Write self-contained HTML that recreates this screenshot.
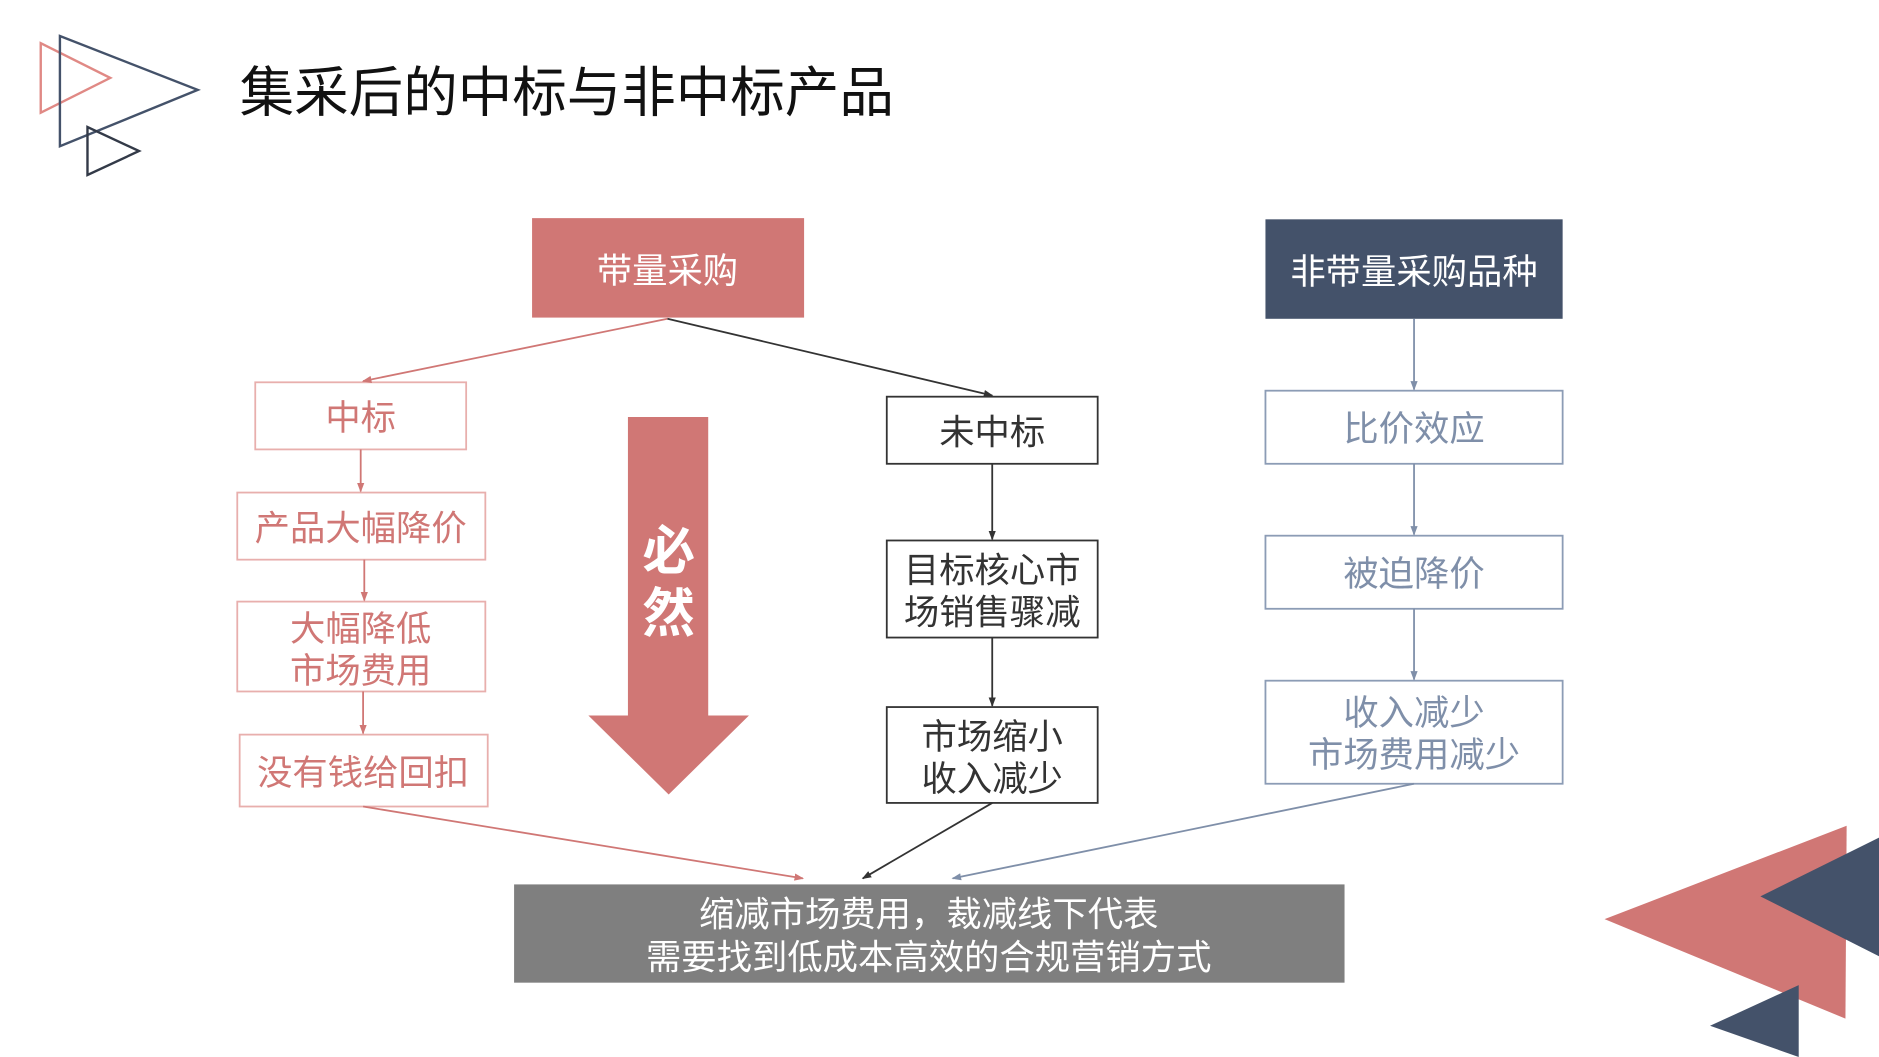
<!DOCTYPE html>
<html><head><meta charset="utf-8"><style>
html,body{margin:0;padding:0;background:#fff;}
svg{display:block;}
text{font-family:"Liberation Sans","Noto Sans CJK SC",sans-serif;}
</style></head><body>
<svg width="1879" height="1057" viewBox="0 0 1568 882" xmlns="http://www.w3.org/2000/svg">
<defs>
<marker id="ap" markerWidth="8" markerHeight="8" refX="7" refY="4" orient="auto" markerUnits="userSpaceOnUse"><path d="M0,1 L8,4 L0,7z" fill="#D07775"/></marker>
<marker id="ad" markerWidth="8" markerHeight="8" refX="7" refY="4" orient="auto" markerUnits="userSpaceOnUse"><path d="M0,1 L8,4 L0,7z" fill="#333"/></marker>
<marker id="ab" markerWidth="8" markerHeight="8" refX="7" refY="4" orient="auto" markerUnits="userSpaceOnUse"><path d="M0,1 L8,4 L0,7z" fill="#7F8FA9"/></marker>
</defs>
<polygon points="34,36 34,94 92,65" fill="none" stroke="#E08985" stroke-width="2"/>
<polygon points="50,30 50,122 165,75" fill="none" stroke="#44526A" stroke-width="2"/>
<polygon points="73,106 73,146 116,126" fill="none" stroke="#333A48" stroke-width="2"/>
<text x="200" y="93" font-size="45.5" fill="#111">集采后的中标与非中标产品</text>
<polygon points="1339,767 1541,689 1540,850" fill="#D07775"/>
<polygon points="1469,748 1568,699 1568,798" fill="#44526A"/>
<polygon points="1427,856 1501,822 1501,882" fill="#44526A"/>
<rect x="444" y="182" width="227" height="83" fill="#D07775"/>
<text x="557" y="236" font-size="29.5" fill="#fff" text-anchor="middle">带量采购</text>
<rect x="1056" y="183" width="248" height="83" fill="#44526A"/>
<text x="1180" y="237" font-size="29.5" fill="#fff" text-anchor="middle">非带量采购品种</text>
<g fill="#fff" stroke="#E8AFAD" stroke-width="1.5">
<rect x="213" y="319" width="176" height="56"/>
<rect x="198" y="411" width="207" height="56"/>
<rect x="198" y="502" width="207" height="75"/>
<rect x="200" y="613" width="207" height="60"/>
</g>
<g font-size="29.5" fill="#D07775" text-anchor="middle">
<text x="301" y="359">中标</text>
<text x="301" y="451">产品大幅降价</text>
<text x="301" y="535">大幅降低</text>
<text x="301" y="570">市场费用</text>
<text x="303" y="655">没有钱给回扣</text>
</g>
<g fill="#fff" stroke="#333" stroke-width="1.5">
<rect x="740" y="331" width="176" height="56"/>
<rect x="740" y="451" width="176" height="81"/>
<rect x="740" y="590" width="176" height="80"/>
</g>
<g font-size="29.5" fill="#333" text-anchor="middle">
<text x="828" y="371">未中标</text>
<text x="828" y="486">目标核心市</text>
<text x="828" y="521">场销售骤减</text>
<text x="828" y="625">市场缩小</text>
<text x="828" y="660">收入减少</text>
</g>
<g fill="#fff" stroke="#8C9CB5" stroke-width="1.5">
<rect x="1056" y="326" width="248" height="61"/>
<rect x="1056" y="447" width="248" height="61"/>
<rect x="1056" y="568" width="248" height="86"/>
</g>
<g font-size="29.5" fill="#7F8FA9" text-anchor="middle">
<text x="1180" y="368">比价效应</text>
<text x="1180" y="489">被迫降价</text>
<text x="1180" y="605">收入减少</text>
<text x="1180" y="640">市场费用减少</text>
</g>
<polygon points="524,348 591,348 591,597 625,597 558,663 491,597 524,597" fill="#D07775"/>
<text x="558" y="475" font-size="44" font-weight="bold" fill="#fff" text-anchor="middle">必</text>
<text x="558" y="527" font-size="44" font-weight="bold" fill="#fff" text-anchor="middle">然</text>
<rect x="429" y="738" width="693" height="82" fill="#7F7F7F"/>
<text x="775" y="773" font-size="29.5" fill="#fff" text-anchor="middle">缩减市场费用，裁减线下代表</text>
<text x="775" y="809" font-size="29.5" fill="#fff" text-anchor="middle">需要找到低成本高效的合规营销方式</text>
<g stroke="#D07775" stroke-width="1.5" fill="none" marker-end="url(#ap)">
<line x1="557" y1="266" x2="303" y2="318"/>
<line x1="301" y1="375" x2="301" y2="410"/>
<line x1="304" y1="467" x2="304" y2="501"/>
<line x1="303" y1="577" x2="303" y2="612"/>
<line x1="303" y1="673" x2="670" y2="733"/>
</g>
<g stroke="#333" stroke-width="1.5" fill="none" marker-end="url(#ad)">
<line x1="557" y1="266" x2="828" y2="330"/>
<line x1="828" y1="387" x2="828" y2="450"/>
<line x1="828" y1="532" x2="828" y2="589"/>
<line x1="828" y1="670" x2="720" y2="733"/>
</g>
<g stroke="#7F8FA9" stroke-width="1.5" fill="none" marker-end="url(#ab)">
<line x1="1180" y1="266" x2="1180" y2="325"/>
<line x1="1180" y1="387" x2="1180" y2="446"/>
<line x1="1180" y1="508" x2="1180" y2="567"/>
<line x1="1180" y1="654" x2="795" y2="733"/>
</g>
</svg>
</body></html>
